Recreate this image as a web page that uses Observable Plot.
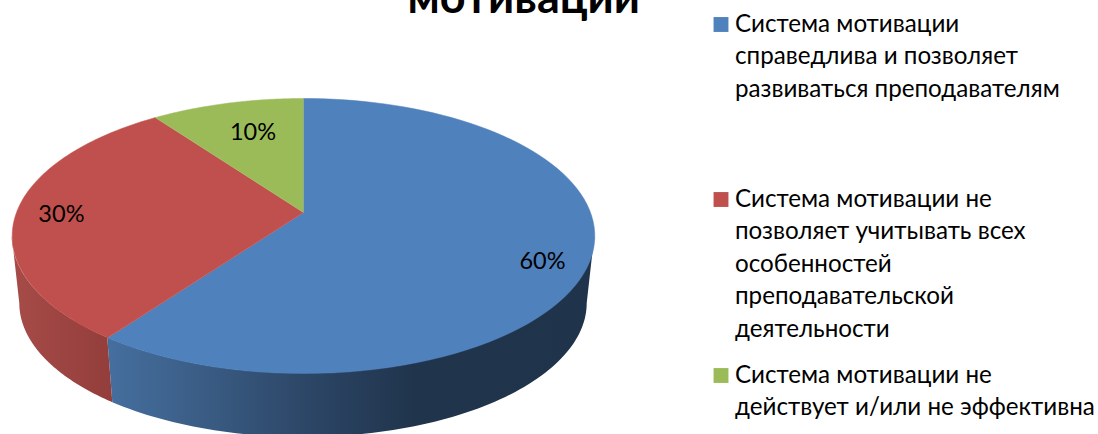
<!DOCTYPE html>
<html><head><meta charset="utf-8">
<script src="https://cdn.jsdelivr.net/npm/d3@7"></script>
<script src="https://cdn.jsdelivr.net/npm/@observablehq/plot@0.6"></script>
<style>html,body{margin:0;padding:0;background:#fff;overflow:hidden}svg{display:block}</style>
</head><body><script>
const titleText = "мотивации";
const names = [
  "Система мотивации\nсправедлива и позволяет\nразвиваться преподавателям",
  "Система мотивации не\nпозволяет учитывать всех\nособенностей\nпреподавательской\nдеятельности",
  "Система мотивации не\nдействует и/или не эффективна"
];
const shares = [60, 30, 10];
const colors = ["#4f81bd", "#c0504d", "#9bbb59"];
const legendTop = [24, 199, 375];
const labelDx = [-1, -1, 15];
const labelDy = [13, 2, 14];
const font = "Lato, 'Open Sans', sans-serif";

// perspective disc: turn is clockwise from the top, in degrees
const k = 0.1709, shrink = 0.974, depth = 0.51;
const project = (turn, r = 1) => {
  const t = turn * Math.PI / 180, u = r * Math.sin(t), v = -r * Math.cos(t), w = 1 - k * v;
  return {x: u / w, y: v / w};
};
const bottom = (p) => ({x: p.x * shrink, y: p.y * shrink + depth});
const sweep = (a, b, n = 90) => d3.range(n + 1).map((i) => a + (b - a) * i / n);

let acc = 0;
const slices = shares.map((s, i) => {
  const a0 = acc * 3.6; acc += s; const a1 = acc * 3.6;
  return {i, a0, a1, mid: (a0 + a1) / 2, share: s};
});
const tangent = (Math.PI - Math.asin(Math.sqrt(1 - k * k))) * 180 / Math.PI;

const wall = (a, b) => sweep(a, b).map((t) => {
  const p = project(t), q = bottom(p);
  return {x1: p.x, y1: p.y, x2: q.x, y2: q.y};
});
const face = (s) => [{x: 0, y: 0}, ...sweep(s.a0, s.a1).map((t) => project(t))];

const gradient = (id, stops) => () => {
  const svg = d3.create("svg:g");
  const g = svg.append("defs").append("linearGradient").attr("id", id);
  stops.forEach(([o, c]) => g.append("stop").attr("offset", o).attr("stop-color", c));
  return svg.node();
};

const marks = [
  gradient("sideBlue", [[0, "#456f9f"], [0.2, "#3a5c84"], [0.4, "#2d4768"], [0.63, "#20344c"], [1, "#1f334b"]]),
  gradient("sideRed", [[0, "#a64b48"], [1, "#933e3c"]]),
  Plot.area(wall(tangent, slices[0].a1), {x1: "x1", y1: "y1", x2: "x2", y2: "y2", fill: "url(#sideBlue)"}),
  Plot.area(wall(slices[1].a0, 360 - tangent), {x1: "x1", y1: "y1", x2: "x2", y2: "y2", fill: "url(#sideRed)"}),
  ...slices.map((s) => Plot.line(face(s), {x: "x", y: "y", fill: colors[s.i], stroke: colors[s.i], strokeWidth: 0.5})),
  ...slices.map((s) => {
    const p = project(s.mid, 0.84);
    return Plot.text([`${s.share}%`], {x: () => p.x, y: () => p.y, text: (d) => d, dx: labelDx[s.i], dy: labelDy[s.i],
      fontSize: 23.5, fontFamily: font, fill: "#000"});
  }),
  Plot.text([titleText], {frameAnchor: "top-left", dx: 407, dy: 12, text: (d) => d, textAnchor: "start", lineAnchor: "bottom",
    fontSize: 45, fontWeight: 700, fontFamily: font, fill: "#000"}),
  ...names.map((n, i) => Plot.dot([n], {frameAnchor: "top-left", dx: 720.5, dy: legendTop[i], symbol: "square", r: 8.4, fill: colors[i]})),
  ...names.map((n, i) => Plot.text([n], {frameAnchor: "top-left", dx: 734.5, dy: legendTop[i] - 16, text: (d) => d, textAnchor: "start", lineAnchor: "top",
    lineHeight: 1.343, fontSize: 24.2, fontFamily: font, fill: "#000"}))
];

document.body.append(Plot.plot({
  width: 1098, height: 434, margin: 0,
  x: {domain: [-1, 1], range: [16, 590], axis: null},
  y: {domain: [-1, 1], range: [78.5, 345.5], axis: null},
  style: {background: "#fff"},
  marks
}));
</script></body></html>
